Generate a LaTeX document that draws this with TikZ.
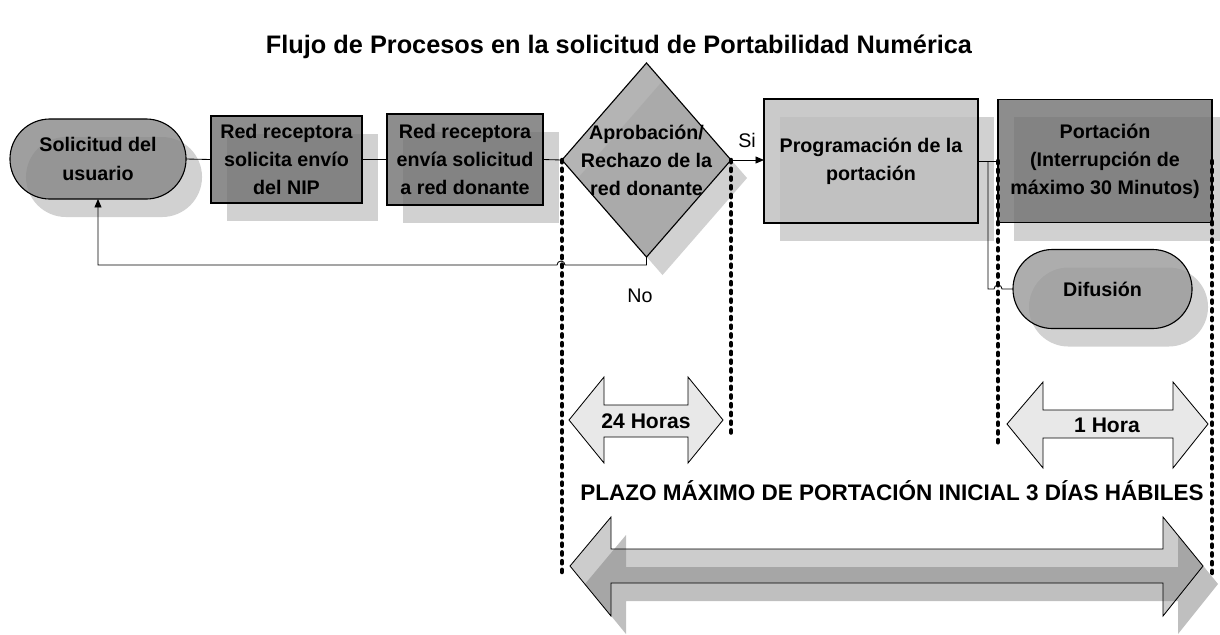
\documentclass[tikz,border=0pt]{standalone}
\usepackage{fontspec}
\setmainfont{Liberation Sans}
\usetikzlibrary{shapes.geometric,shapes.misc,shadows,arrows.meta}

\definecolor{solgray}{gray}{0.53}
\definecolor{boxgray}{gray}{0.44}
\definecolor{decgray}{gray}{0.63}
\definecolor{proggray}{gray}{0.74}
\definecolor{difgray}{gray}{0.60}

\newcommand{\longarrow}[1]{\path[#1] (570,566) -- (611,517) -- (611,549) -- (1163,549)
  -- (1163,517) -- (1203,566) -- (1163,616) -- (1163,583) -- (611,583) -- (611,616) -- cycle;}

\tikzset{
  lbl/.style={font=\bfseries\fontsize{14}{20}\selectfont, align=center},
  base/.style={lbl, draw=black, line width=0.8pt, fill opacity=0.8, text opacity=1,
    inner sep=0pt, outer sep=0pt,
    drop shadow={shadow xshift=0.4cm, shadow yshift=-0.45cm, fill=black!18, opacity=1}},
  proc/.style={base, rectangle},
  term/.style={base, rounded rectangle},
  decision/.style={base, diamond},
  note/.style={font=\fontsize{14}{16}\selectfont},
  link/.style={line width=0.6pt},
  tip/.style={-{Triangle[length=6pt,width=5pt]}},
  period/.style={line width=3.2pt, line cap=round, dash pattern=on 1.6pt off 4.6pt},
  span/.style={draw=black, line width=0.6pt, fill=black!9}
}

\begin{document}
\begin{tikzpicture}[x=0.025cm, y=-0.025cm]
  \useasboundingbox (0,0) rectangle (1220,634);
  \node[lbl, font=\bfseries\fontsize{18}{22}\selectfont] (title) at (619,47)
    {Flujo de Procesos en la solicitud de Portabilidad Numérica};

  % process row
  \node[term, fill=solgray, minimum width=4.4cm, minimum height=2cm] (sol) at (98,159)
    {Solicitud del\\usuario};
  \node[proc, fill=boxgray, minimum width=3.775cm, minimum height=2.175cm] (nip) at (286.5,159.5)
    {Red receptora\\solicita envío\\del NIP};
  \node[proc, fill=boxgray, minimum width=3.9cm, minimum height=2.275cm] (envio) at (465,159.5)
    {Red receptora\\envía solicitud\\a red donante};
  \node[decision, fill=decgray, minimum width=4.225cm, minimum height=4.85cm] (dec) at (646.5,160) {};
  \node[lbl] (dectxt) at (dec) {Aprobación/\\Rechazo de la\\red donante};
  \node[proc, fill=proggray, minimum width=5.35cm, minimum height=3.1cm] (prog) at (871,161)
    {Programación de la\\portación};
  \node[proc, fill=boxgray, minimum width=5.35cm, minimum height=3.075cm] (port) at (1105,161)
    {Portación\\(Interrupción de\\máximo 30 Minutos)};
  \node[term, fill=difgray, minimum width=4.475cm, minimum height=1.975cm] (dif) at (1102.5,289)
    {Difusión};

  % connectors
  \draw[link] (sol.east) -- (nip.west);
  \draw[link] (nip.east) -- (envio.west);
  \draw[link] (envio.east) -- (dec.west);
  \draw[link, tip] (dec.east) -- (dec.east -| prog.west);
  \draw[link, tip] (dec.south) -- ++(0,8) -- (565,265) arc (0:-180:4) -| (sol.south);
  \path (prog.east) ++(10,0) coordinate (fork);
  \draw[link] (prog.east) -- (port.west);
  \draw[link] (fork) -- (fork |- dif.west) -- ++(6,0) arc (180:360:4) -- (dif.west);
  \node[note] (si) at (747,140) {Si};
  \node[note] (no) at (640,296) {No};

  % time limits
  \path (dec.west) ++(0,416) coordinate (endA);
  \path (dec.east) ++(0,276) coordinate (endB);
  \path (port.west) ++(0,286) coordinate (endC);
  \path (port.east) ++(0,417) coordinate (endD);
  \draw[period] (dec.west) -- (endA);
  \draw[period] (dec.east) -- (endB);
  \draw[period] (port.west) -- (endC);
  \draw[period] (port.east) -- (endD);

  \draw[span] (569,420) -- (604,377) -- (604,405) -- (688,405) -- (688,377) -- (723,420)
    -- (688,463) -- (688,437) -- (604,437) -- (604,463) -- cycle;
  \node[lbl, font=\bfseries\fontsize{15}{18}\selectfont] (hours) at (646,421) {24 Horas};
  \draw[span] (1007,424) -- (1043,382) -- (1043,410) -- (1173,410) -- (1173,382) -- (1208,424)
    -- (1173,468) -- (1173,438) -- (1043,438) -- (1043,468) -- cycle;
  \node[lbl, font=\bfseries\fontsize{15}{18}\selectfont] (hour) at (1107,425) {1 Hora};

  \node[lbl, font=\bfseries\fontsize{16}{18}\selectfont] (plazo) at (892,491)
    {PLAZO MÁXIMO DE PORTACIÓN INICIAL 3 DÍAS HÁBILES};
  \longarrow{fill=black!25, shift={(15,18)}}
  \longarrow{fill=black!20}
  \begin{scope}
    \longarrow{clip, shift={(15,18)}}
    \longarrow{fill=black!35}
  \end{scope}
  \longarrow{draw=black, line width=0.6pt}
\end{tikzpicture}
\end{document}
